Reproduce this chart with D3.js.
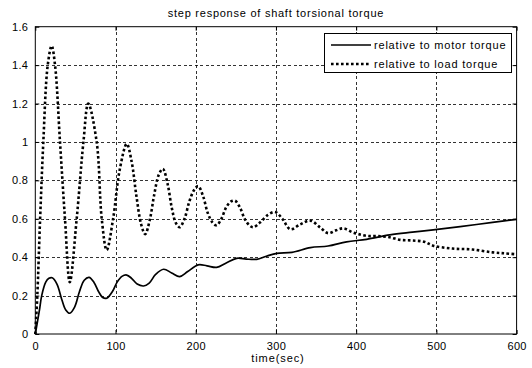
<!DOCTYPE html>
<html>
<head>
<meta charset="utf-8">
<script src="https://cdn.jsdelivr.net/npm/d3@7"></script>
<style>
  body { margin: 0; background: #fff; }
  text { font-family: "Liberation Sans", Arial, sans-serif; fill: #000; }
</style>
</head>
<body>
<svg id="chart" width="532" height="368"></svg>
<script>
// values
const motorT = [0, 5, 8, 13, 17, 21, 27, 33, 38, 43, 49, 55, 61, 67, 73, 79, 84, 89, 96, 102, 108, 114, 120, 127, 135, 142, 150, 160, 170, 180, 190, 203, 214, 226, 238, 251, 263, 276, 288, 301, 320, 343, 365, 388, 413, 442, 470, 496, 550, 600];
const motorV = [0, 0.12, 0.2, 0.27, 0.29, 0.293, 0.26, 0.18, 0.125, 0.108, 0.14, 0.22, 0.28, 0.295, 0.27, 0.22, 0.19, 0.186, 0.22, 0.27, 0.3, 0.307, 0.29, 0.26, 0.25, 0.265, 0.31, 0.337, 0.318, 0.299, 0.325, 0.36, 0.355, 0.347, 0.37, 0.394, 0.39, 0.389, 0.405, 0.42, 0.425, 0.45, 0.458, 0.48, 0.493, 0.516, 0.53, 0.542, 0.57, 0.597];

const loadT = [0, 2.5, 6, 10, 15.5, 20.4, 24.6, 30.8, 37, 43, 51.6, 60, 66, 76.5, 82.8, 89, 97, 105, 114, 120, 126, 132, 137, 143, 148, 154, 159, 165, 170, 175, 180, 186, 192, 198, 203, 209, 215, 221, 226, 232, 238, 244, 249, 255, 261, 267, 272, 280, 290, 299, 308, 318, 330, 343, 355, 365, 375, 384, 395, 403, 415, 426, 440, 455, 470, 485, 496, 520, 545, 570, 585, 600];
const loadV = [0, 0.2, 0.6, 1.0, 1.4, 1.5, 1.4, 1.0, 0.6, 0.27, 0.6, 1.0, 1.2, 1.0, 0.6, 0.437, 0.6, 0.85, 0.99, 0.9, 0.72, 0.57, 0.52, 0.6, 0.72, 0.83, 0.86, 0.78, 0.66, 0.58, 0.556, 0.6, 0.69, 0.75, 0.77, 0.72, 0.63, 0.58, 0.566, 0.6, 0.66, 0.69, 0.694, 0.66, 0.6, 0.565, 0.556, 0.58, 0.62, 0.635, 0.6, 0.545, 0.57, 0.59, 0.555, 0.525, 0.54, 0.55, 0.53, 0.52, 0.51, 0.51, 0.505, 0.49, 0.487, 0.48, 0.46, 0.445, 0.44, 0.425, 0.42, 0.415];

const xTicks = [0, 100, 200, 300, 400, 500, 600];
const yTicks = [0, 0.2, 0.4, 0.6, 0.8, 1, 1.2, 1.4, 1.6];
const legendNames = ["relative to motor torque", "relative to load torque"];

const svg = d3.select("#chart");
const pLeft = 35.3, pRight = 516.6, pTop = 26.7, pBottom = 334;

const x = d3.scaleLinear().domain([0, 600]).range([pLeft, pRight]);
const y = d3.scaleLinear().domain([0, 1.6]).range([pBottom, pTop]);

// grid
const grid = svg.append("g")
  .attr("stroke", "#000")
  .attr("stroke-width", 0.8)
  .attr("stroke-dasharray", "3,2.5")
  .attr("shape-rendering", "crispEdges");
grid.selectAll(".gx").data(xTicks.slice(1, -1)).enter().append("line")
  .attr("x1", d => Math.round(x(d)) + 0.5).attr("x2", d => Math.round(x(d)) + 0.5)
  .attr("y1", pTop).attr("y2", pBottom);
grid.selectAll(".gy").data(yTicks.slice(1, -1)).enter().append("line")
  .attr("y1", d => Math.round(y(d)) + 0.5).attr("y2", d => Math.round(y(d)) + 0.5)
  .attr("x1", pLeft).attr("x2", pRight);

// axes, ticks inside like matlab
const axB = d3.axisBottom(x).tickValues(xTicks).tickSizeInner(-4).tickSizeOuter(0).tickPadding(8);
const axT = d3.axisTop(x).tickValues(xTicks).tickSizeInner(-4).tickSizeOuter(0).tickFormat("");
const axL = d3.axisLeft(y).tickValues(yTicks).tickSizeInner(-4).tickSizeOuter(0).tickPadding(7)
  .tickFormat(d => d3.format("")(+d.toFixed(1)));
const axR = d3.axisRight(y).tickValues(yTicks).tickSizeInner(-4).tickSizeOuter(0).tickFormat("");

function styleAxis(g) {
  g.select(".domain").remove();
  g.selectAll("line").attr("stroke", "#000");
  g.selectAll("text").attr("font-size", 11).attr("letter-spacing", 0.3)
    .attr("font-family", "Liberation Sans, Arial, sans-serif");
}
svg.append("g").attr("transform", `translate(0,${pBottom})`).call(axB).call(styleAxis);
svg.append("g").attr("transform", `translate(0,${pTop})`).call(axT).call(styleAxis);
svg.append("g").attr("transform", `translate(${pLeft},0)`).call(axL).call(styleAxis);
svg.append("g").attr("transform", `translate(${pRight},0)`).call(axR).call(styleAxis);

svg.append("rect")
  .attr("x", pLeft).attr("y", pTop)
  .attr("width", pRight - pLeft).attr("height", pBottom - pTop)
  .attr("fill", "none").attr("stroke", "#000").attr("stroke-width", 1);

// curves
const motor = motorT.map((t, i) => [t, motorV[i]]);
const load = loadT.map((t, i) => [t, loadV[i]]);
const line = d3.line().x(d => x(d[0])).y(d => y(d[1])).curve(d3.curveCatmullRom.alpha(0.5));

svg.append("path").datum(motor)
  .attr("d", line).attr("fill", "none")
  .attr("stroke", "#000").attr("stroke-width", 1.7);

svg.append("path").datum(load)
  .attr("d", line).attr("fill", "none")
  .attr("stroke", "#000").attr("stroke-width", 2.6)
  .attr("stroke-dasharray", "2.6,2.4");

// labels
svg.append("text").attr("x", (pLeft + pRight) / 2).attr("y", 17)
  .attr("text-anchor", "middle").attr("font-size", 11).attr("letter-spacing", 0.75)
  .text("step response of shaft torsional torque");
svg.append("text").attr("x", (pLeft + pRight) / 2 + 2).attr("y", 362)
  .attr("text-anchor", "middle").attr("font-size", 11).attr("letter-spacing", 0.9)
  .text("time(sec)");

// legend
const lg = svg.append("g");
lg.append("rect").attr("x", 324.5).attr("y", 33.5).attr("width", 187).attr("height", 39)
  .attr("fill", "#fff").attr("stroke", "#000").attr("stroke-width", 1);
legendNames.forEach((name, i) => {
  const yy = 45 + i * 19;
  lg.append("line").attr("x1", 331).attr("x2", 371).attr("y1", yy).attr("y2", yy)
    .attr("stroke", "#000")
    .attr("stroke-width", i === 0 ? 1.7 : 2.6)
    .attr("stroke-dasharray", i === 0 ? null : "2.6,2.4");
  lg.append("text").attr("x", 374).attr("y", yy + 4).attr("font-size", 11)
    .attr("letter-spacing", 0.8).text(name);
});
</script>
</body>
</html>
